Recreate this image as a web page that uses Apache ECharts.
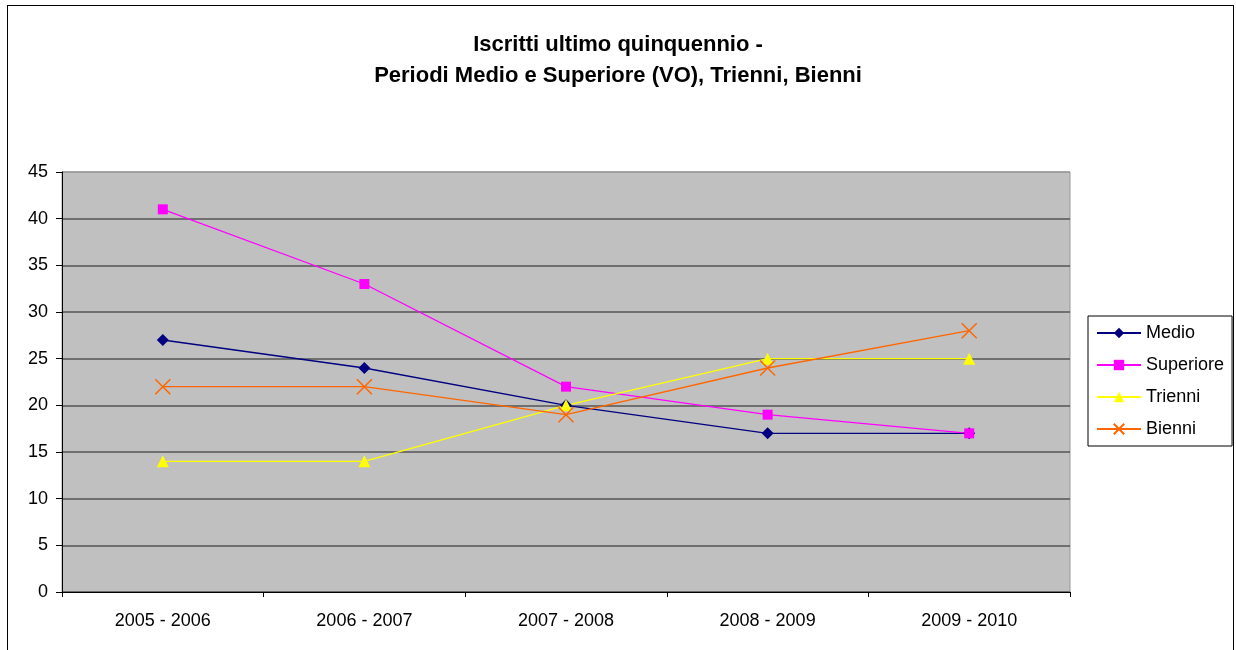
<!DOCTYPE html>
<html>
<head>
<meta charset="utf-8">
<script src="https://cdn.jsdelivr.net/npm/echarts@6/dist/echarts.min.js"></script>
<style>
  body { margin: 0; background: #fff; }
  #main { width: 1236px; height: 650px; }
  #frame { position: absolute; left: 7px; top: 5px; width: 1225px; height: 660px; border: 1px solid #000; pointer-events: none; }
</style>
</head>
<body>
<div id="main"></div>
<div id="frame"></div>
<script>
// anni accademici
const years = ['2005 - 2006', '2006 - 2007', '2007 - 2008', '2008 - 2009', '2009 - 2010'];
const medio = [27, 24, 20, 17, 17];
const superiore = [41, 33, 22, 19, 17];
const trienni = [14, 14, 20, 25, 25];
const bienni = [22, 22, 19, 24, 28];

const chart = echarts.init(document.getElementById('main'));

const cross = 'path://M0,0L10,10M10,0L0,10';
const gridColors = ['#555', '#555', '#555', '#555', '#555', '#555', '#555', '#555', '#555', '#999'];

var option = {
  animation: false,
  textStyle: { fontFamily: 'Liberation Sans, Arial, sans-serif' },
  title: {
    text: 'Iscritti ultimo quinquennio -\nPeriodi Medio e Superiore (VO), Trienni, Bienni',
    left: 'center',
    top: 24,
    textStyle: { fontSize: 22, fontWeight: 'bold', color: '#000', lineHeight: 31 }
  },
  grid: {
    left: 62, right: 166, top: 172, bottom: 58,
    show: true,
    backgroundColor: '#C0C0C0',
    borderColor: '#999',
    borderWidth: 1
  },
  legend: {
    orient: 'vertical',
    left: 1088,
    top: 316,
    padding: [8, 8, 8, 8],
    itemGap: 14,
    itemWidth: 44,
    itemHeight: 13,
    borderColor: '#000',
    borderWidth: 1,
    textStyle: { fontSize: 18, color: '#000' },
    data: ['Medio', 'Superiore', 'Trienni', 'Bienni']
  },
  xAxis: {
    type: 'category',
    data: years,
    boundaryGap: true,
    axisLine: { lineStyle: { color: '#000', width: 1 } },
    axisTick: { show: true, length: 5, lineStyle: { color: '#000' } },
    axisLabel: { color: '#000', fontSize: 18, margin: 20 }
  },
  yAxis: {
    type: 'value',
    min: 0,
    max: 45,
    interval: 5,
    axisLine: { show: true, lineStyle: { color: '#000', width: 1 } },
    axisTick: { show: true, length: 6, lineStyle: { color: '#000' } },
    axisLabel: { color: '#000', fontSize: 18, margin: 14 },
    splitLine: { lineStyle: { color: gridColors, width: 1.5 } }
  },
  series: [{
    name: 'Medio',
    type: 'line',
    data: medio,
    symbol: 'diamond',
    symbolSize: 12,
    lineStyle: { color: '#000080', width: 1.3 },
    itemStyle: { color: '#000080' }
  }, {
    name: 'Superiore',
    type: 'line',
    data: superiore,
    symbol: 'rect',
    symbolSize: 10,
    lineStyle: { color: '#FF00FF', width: 1.3 },
    itemStyle: { color: '#FF00FF' }
  }, {
    name: 'Trienni',
    type: 'line',
    data: trienni,
    symbol: 'triangle',
    symbolSize: 12,
    lineStyle: { color: '#FFFF00', width: 1.3 },
    itemStyle: { color: '#FFFF00' }
  }, {
    name: 'Bienni',
    type: 'line',
    data: bienni,
    symbol: cross,
    symbolSize: 15,
    lineStyle: { color: '#FF6600', width: 1.3 },
    itemStyle: { color: '#FF6600', borderColor: '#FF6600', borderWidth: 1.5 }
  }]
};
chart.setOption(option);
</script>
</body>
</html>
